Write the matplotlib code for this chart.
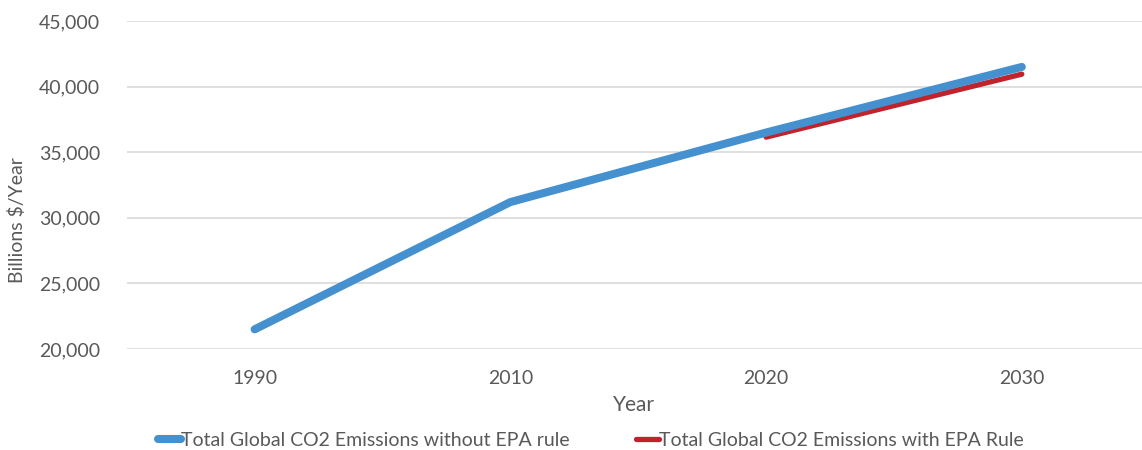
import matplotlib
matplotlib.use("Agg")
import matplotlib.pyplot as plt
from matplotlib.ticker import FuncFormatter

years = ["1990", "2010", "2020", "2030"]
without_rule = [21500, 31200, 36500, 41500]
with_rule_years = ["2020", "2030"]
with_rule = [36150, 40950]

BLUE = "#4590cf"
RED = "#c0232b"
TEXT = "#595959"
GRID = "#d9d9d9"

plt.rcParams["font.family"] = ["Lato", "DejaVu Sans"]

fig = plt.figure(figsize=(11.42, 4.5), dpi=100)
ax = fig.add_axes([0.111, 0.2244, 0.889, 0.7289])

x_all = list(range(len(years)))
x_rule = [years.index(y) for y in with_rule_years]

ax.plot(x_all, without_rule, color=BLUE, linewidth=5.8, solid_capstyle="round",
        solid_joinstyle="round", label="Total Global CO2 Emissions without EPA rule", zorder=3)
ax.plot(x_rule, with_rule, color=RED, linewidth=3.8, solid_capstyle="round",
        label="Total Global CO2 Emissions with EPA Rule", zorder=2)

ax.set_xlim(-0.5, 3.47)
ax.set_ylim(20000, 45000)
ax.set_yticks(range(20000, 45001, 5000))
ax.yaxis.set_major_formatter(FuncFormatter(lambda v, _: f"{int(v):,}"))
ax.set_xticks(x_all)
ax.set_xticklabels(years)

ax.grid(axis="y", color=GRID, linewidth=1.2)
ax.set_axisbelow(True)
for spine in ax.spines.values():
    spine.set_visible(False)
ax.tick_params(length=0, colors=TEXT, labelsize=14, pad=19)
ax.tick_params(axis="x", pad=15)

ax.set_ylabel("Billions $/Year", color=TEXT, fontsize=14)
ax.yaxis.set_label_coords(-0.099, 0.393)
ax.set_xlabel("Year", color=TEXT, fontsize=15, labelpad=6)

leg = fig.legend(loc="center", bbox_to_anchor=(591 / 1142, 1 - 440 / 450), ncol=2, frameon=False,
                 fontsize=14, handlelength=1.2, handletextpad=0.0, columnspacing=3.4)
for text in leg.get_texts():
    text.set_color(TEXT)

fig.savefig("out.png", dpi=100)
